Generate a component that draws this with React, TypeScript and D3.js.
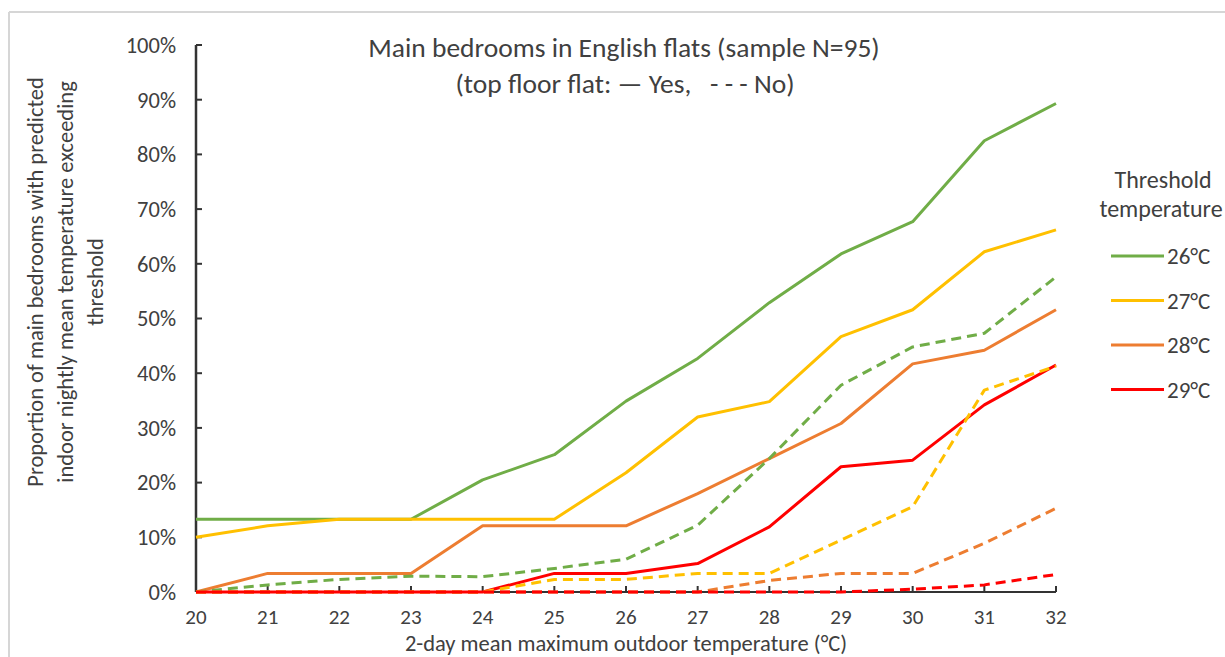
import React from "react";
import * as d3 from "d3";

const temps = [20, 21, 22, 23, 24, 25, 26, 27, 28, 29, 30, 31, 32];
const yTicks = [0, 10, 20, 30, 40, 50, 60, 70, 80, 90, 100];

const thresholds = ["26°C", "27°C", "28°C", "29°C"];
const colors = ["#70AD47", "#FFC000", "#ED7D31", "#FF0000"];

// Top floor flat: Yes (solid)
const yes26 = [13.3, 13.3, 13.3, 13.3, 20.5, 25.1, 34.9, 42.7, 52.9, 61.8, 67.7, 82.5, 89.3];
const yes27 = [10.0, 12.1, 13.3, 13.3, 13.3, 13.3, 21.8, 32.0, 34.8, 46.7, 51.6, 62.2, 66.2];
const yes28 = [0, 3.4, 3.4, 3.4, 12.1, 12.1, 12.1, 18.0, 24.4, 30.8, 41.7, 44.2, 51.6];
const yes29 = [0, 0, 0, 0, 0, 3.4, 3.4, 5.2, 11.9, 22.9, 24.1, 34.2, 41.5];
// Top floor flat: No (dashed)
const no26 = [0, 1.3, 2.3, 2.9, 2.8, 4.3, 6.0, 12.2, 24.4, 37.8, 44.8, 47.3, 57.6];
const no27 = [0, 0, 0, 0, 0, 2.3, 2.3, 3.4, 3.4, 9.5, 15.6, 36.9, 41.3];
const no28 = [0, 0, 0, 0, 0, 0, 0, 0, 2.1, 3.4, 3.4, 8.9, 15.3];
const no29 = [0, 0, 0, 0, 0, 0, 0, 0, 0, 0, 0.5, 1.3, 3.2];

const yesSeries = [yes26, yes27, yes28, yes29];
const noSeries = [no26, no27, no28, no29];

const FONT = "Calibri, Carlito, Lato, sans-serif";
const TXT = "#404040";

export default function App() {
  const W = 1225, H = 657;
  const x = d3.scaleLinear().domain([20, 32]).range([196, 1056]);
  const y = d3.scaleLinear().domain([0, 100]).range([592, 45]);
  const line = d3
    .line<number>()
    .x((_, i) => x(temps[i]))
    .y((d) => y(d));

  return (
    <svg
      width={W}
      height={H}
      style={{ position: "absolute", left: 0, top: 0, background: "#fff" }}
      fontFamily={FONT}
    >
      {/* frame */}
      <line x1={9} y1={12} x2={W} y2={12} stroke="#d6d6d6" strokeWidth={2} />
      <line x1={9} y1={12} x2={9} y2={H} stroke="#d6d6d6" strokeWidth={2} />

      {/* title */}
      <text x={624} y={57} textAnchor="middle" fontSize={27.5} fill={TXT}>
        Main bedrooms in English flats (sample N=95)
      </text>
      <text x={625} y={93} textAnchor="middle" fontSize={27.5} fill={TXT} style={{ whiteSpace: "pre" }}>
        {"(top floor flat: — Yes,   - - - No)"}
      </text>

      {/* axes */}
      <line x1={x(20)} y1={y(100)} x2={x(20)} y2={y(0)} stroke="#333" strokeWidth={2.5} />
      <line x1={x(20)} y1={y(0)} x2={x(32)} y2={y(0)} stroke="#333" strokeWidth={2} />
      {yTicks.map((t) => (
        <g key={"yt" + t}>
          <line x1={x(20)} x2={x(20) + 6} y1={y(t)} y2={y(t)} stroke="#333" strokeWidth={2} />
          <text x={176} y={y(t)} dy="0.35em" textAnchor="end" fontSize={22.5} fill={TXT}>
            {t + "%"}
          </text>
        </g>
      ))}
      {temps.map((t) => (
        <g key={"xt" + t}>
          <line x1={x(t)} x2={x(t)} y1={y(0)} y2={y(0) - 6} stroke="#333" strokeWidth={2} />
          <text x={x(t)} y={624} textAnchor="middle" fontSize={21} fill={TXT}>
            {t}
          </text>
        </g>
      ))}
      <text x={626} y={651} textAnchor="middle" fontSize={22.5} fill={TXT}>
        2-day mean maximum outdoor temperature (°C)
      </text>

      {/* y axis title */}
      <g transform="translate(0,282) rotate(-90)" fontSize={22.5} fill={TXT}>
        <text x={0} y={43} textAnchor="middle">Proportion of main bedrooms with predicted</text>
        <text x={0} y={73} textAnchor="middle">indoor nightly mean temperature exceeding</text>
        <text x={0} y={103} textAnchor="middle">threshold</text>
      </g>

      {/* series */}
      {yesSeries.map((s, i) => (
        <path key={"yes" + i} d={line(s) || ""} fill="none" stroke={colors[i]} strokeWidth={3} strokeLinejoin="round" />
      ))}
      {noSeries.map((s, i) => (
        <path
          key={"no" + i}
          d={line(s) || ""}
          fill="none"
          stroke={colors[i]}
          strokeWidth={3}
          strokeDasharray="10,6"
          strokeLinejoin="round"
        />
      ))}

      {/* legend */}
      <text x={1163} y={188} textAnchor="middle" fontSize={24} fill={TXT}>Threshold</text>
      <text x={1161} y={217} textAnchor="middle" fontSize={24} fill={TXT}>temperature</text>
      {thresholds.map((t, i) => {
        const ly = 256 + i * 44.5;
        return (
          <g key={"lg" + t}>
            <line x1={1111} x2={1164} y1={ly} y2={ly} stroke={colors[i]} strokeWidth={3} />
            <text x={1167} y={ly} dy="0.35em" fontSize={23} fill={TXT}>{t}</text>
          </g>
        );
      })}
    </svg>
  );
}
